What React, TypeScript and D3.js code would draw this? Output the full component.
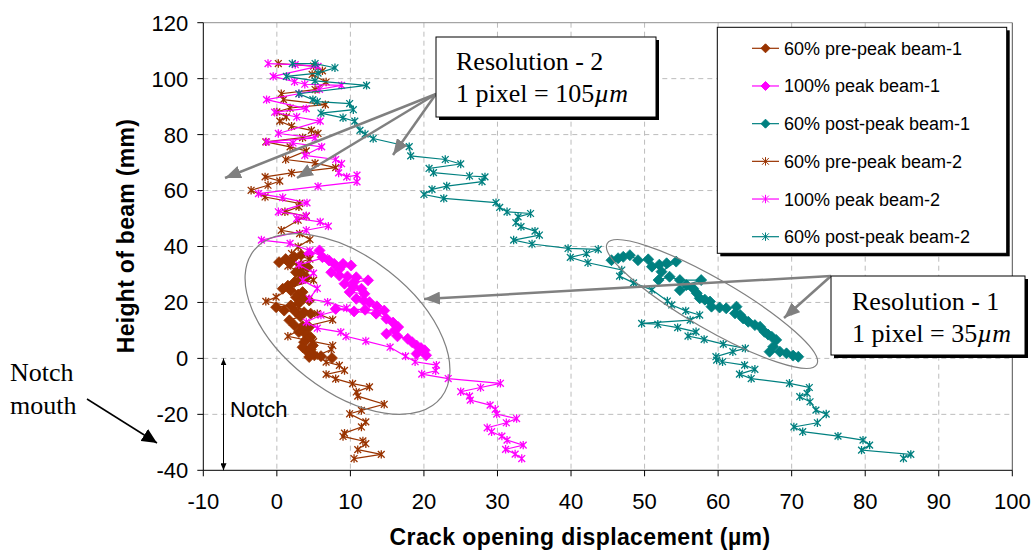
import React, { useEffect, useRef } from "react";
import * as d3 from "d3";

// [crack opening (µm), height (mm)]
const prePeakBeam1 = [
  [3.3, 37.0], [2.4, 36.2], [1.2, 35.5], [0.3, 34.4], [1.8, 34.0], [3.3, 33.2], [4.2, 32.6], [3.0, 31.8],
  [2.6, 30.8], [3.5, 30.0], [4.0, 29.0], [3.2, 28.2], [2.4, 27.3], [1.5, 26.0], [0.8, 24.9], [1.9, 24.3],
  [3.5, 23.7], [2.9, 22.8], [2.6, 21.9], [3.6, 21.3], [4.4, 20.7], [3.0, 19.8], [1.9, 18.9], [-0.1, 18.3],
  [1.0, 17.1], [2.5, 16.8], [3.7, 16.5], [4.6, 16.0], [3.2, 15.0], [1.7, 13.6], [2.4, 11.8], [3.5, 11.5],
  [4.4, 11.2], [3.8, 10.2], [3.0, 9.4], [4.0, 8.5], [4.6, 7.6], [4.0, 6.8], [3.7, 5.8], [3.5, 4.0],
  [4.9, 4.6], [4.6, 3.2], [4.2, 2.3], [5.1, 1.1], [4.4, 0.5], [6.0, 0.8], [7.5, 0.1],
];
const peakBeam1 = [
  [4.4, 37.4], [5.8, 38.6], [6.2, 36.2], [7.1, 35.0], [7.8, 33.8], [9.0, 33.8], [10.1, 33.2], [8.5, 32.0],
  [7.4, 30.8], [8.5, 29.6], [9.6, 29.3], [10.8, 29.0], [12.4, 27.9], [10.5, 27.3], [9.2, 26.7], [10.4, 25.8],
  [11.5, 24.9], [9.9, 23.7], [11.9, 23.1], [10.8, 21.3], [11.8, 20.7], [12.6, 20.1], [13.6, 18.6], [14.6, 17.1],
  [12.0, 17.4], [8.0, 17.7], [10.5, 16.8], [13.5, 16.0], [14.9, 14.2], [15.8, 12.8], [16.5, 11.2], [16.0, 10.0],
  [14.9, 8.8], [16.4, 7.9], [17.8, 7.0], [18.4, 5.8], [19.0, 4.6], [19.6, 3.7], [20.1, 2.9], [19.0, 1.7],
  [20.3, 1.1],
];
const postPeakBeam1 = [
  [45.5, 35.1], [46.4, 35.8], [47.1, 36.3], [48.0, 36.9], [49.1, 35.1], [50.5, 35.4], [51.0, 32.8], [52.0, 33.5],
  [53.0, 34.0], [54.3, 34.6], [52.3, 31.0], [51.9, 28.0], [53.4, 29.2], [54.8, 28.0], [57.7, 28.0], [55.7, 26.2],
  [54.8, 24.4], [56.6, 25.0], [57.1, 23.3], [57.5, 21.5], [58.2, 21.0], [58.9, 20.3], [59.1, 18.5], [60.2, 18.2],
  [61.1, 17.9], [62.5, 18.5], [62.3, 16.1], [63.0, 15.5], [63.4, 14.3], [64.1, 13.1], [65.0, 11.9], [65.7, 11.3],
  [66.3, 9.5], [66.8, 8.5], [67.3, 7.7], [67.9, 6.6], [67.5, 4.2], [67.0, 2.4], [68.4, 2.4], [69.3, 1.8],
  [70.2, 1.0], [70.9, 0.6],
];
const prePeakBeam2 = [
  [0.2, 105.4], [5.0, 104.5], [6.2, 102.8], [4.8, 101.5], [6.7, 98.8], [5.2, 96.1], [0.6, 94.6], [0.9, 92.5],
  [6.6, 90.7], [1.8, 89.5], [0.0, 88.1], [1.3, 86.3], [0.4, 84.8], [2.0, 83.0], [4.7, 81.5], [5.6, 80.4],
  [3.5, 78.9], [-1.5, 77.4], [1.8, 75.6], [4.0, 74.2], [1.2, 71.1], [5.2, 69.8], [8.0, 68.2], [2.0, 66.3],
  [-1.6, 64.9], [0.4, 63.4], [-1.2, 61.9], [-3.5, 60.1], [-1.6, 57.7], [3.1, 55.4], [3.0, 54.2], [1.1, 52.4],
  [4.0, 50.8], [2.9, 49.4], [0.6, 45.8], [3.1, 44.6], [4.5, 42.5], [2.9, 39.9], [2.0, 37.5], [4.5, 35.5],
  [1.5, 33.0], [3.5, 30.5], [5.0, 28.0], [2.0, 25.5], [-0.1, 21.9], [-1.5, 20.4], [3.0, 18.0], [5.5, 16.0],
  [7.6, 13.8], [4.0, 11.5], [1.5, 7.9], [5.0, 6.0], [7.6, 4.6], [7.4, 3.2], [5.5, 1.0], [6.7, -1.3],
  [8.5, -2.5], [9.2, -4.3], [6.7, -5.7], [8.0, -7.3], [10.3, -9.0], [12.6, -10.2], [10.8, -12.0], [11.0, -13.5],
  [14.6, -16.4], [11.5, -18.6], [9.9, -19.8], [12.1, -22.7], [11.5, -24.5], [9.2, -26.7], [9.0, -27.9], [11.7, -29.5],
  [12.1, -30.5], [11.0, -32.6], [14.2, -34.3], [10.5, -35.8],
];
const peakBeam2 = [
  [-1.2, 105.4], [2.5, 105.0], [5.6, 104.4], [-0.5, 100.8], [2.4, 98.9], [3.8, 98.0], [8.8, 97.6], [5.8, 96.2],
  [3.0, 94.6], [-1.4, 92.5], [4.0, 89.3], [-0.3, 88.0], [2.7, 86.3], [5.9, 84.8], [0.2, 80.4], [5.2, 78.8],
  [-1.4, 77.4], [2.2, 77.0], [6.1, 75.6], [3.8, 72.6], [8.0, 71.1], [8.8, 69.6], [8.4, 66.3], [9.5, 64.9],
  [10.9, 65.5], [10.9, 63.1], [5.6, 61.5], [-2.5, 58.9], [0.8, 57.5], [4.1, 55.6], [0.2, 52.4], [4.0, 51.0],
  [2.7, 50.0], [5.9, 48.8], [7.0, 47.3], [4.0, 45.8], [-2.1, 42.3], [1.8, 41.1], [4.5, 38.5], [6.5, 36.0],
  [3.0, 33.5], [5.0, 30.5], [3.5, 27.9], [5.5, 25.0], [4.4, 21.3], [6.9, 20.1], [9.5, 18.0], [6.0, 15.5],
  [4.0, 13.0], [5.5, 10.8], [8.7, 9.4], [9.4, 7.9], [12.1, 6.2], [15.4, 4.0], [17.5, 0.8], [18.8, -1.2],
  [21.7, -2.4], [21.6, -4.4], [19.7, -5.6], [23.3, -7.2], [30.4, -8.9], [27.7, -10.4], [25.0, -11.9], [26.2, -13.5],
  [26.3, -14.9], [29.0, -16.7], [29.7, -18.2], [29.9, -19.9], [32.6, -21.5], [31.2, -23.0], [28.6, -24.8], [29.2, -26.2],
  [30.6, -27.8], [31.3, -29.2], [33.5, -31.0], [31.1, -32.5], [32.4, -34.2], [33.3, -35.8],
];
const postPeakBeam2 = [
  [2.1, 105.4], [5.2, 105.4], [7.9, 103.9], [5.6, 102.0], [1.3, 100.8], [5.2, 99.2], [12.2, 97.6], [3.0, 94.6],
  [4.9, 92.5], [5.5, 91.8], [9.9, 91.1], [10.4, 88.9], [6.0, 87.7], [9.0, 86.0], [10.6, 84.8], [11.3, 81.5],
  [12.0, 80.2], [13.1, 78.6], [18.0, 75.7], [18.2, 72.4], [22.9, 71.1], [25.0, 69.5], [20.7, 67.9], [21.3, 66.4],
  [26.2, 65.2], [28.3, 64.9], [27.9, 63.2], [23.1, 61.6], [21.1, 60.4], [20.0, 58.6], [22.7, 57.2], [29.8, 55.7],
  [30.3, 54.0], [31.3, 52.4], [34.5, 51.8], [32.8, 50.6], [32.5, 48.5], [33.2, 47.1], [35.1, 45.5], [35.7, 44.1],
  [32.2, 42.3], [34.7, 40.9], [39.6, 39.3], [43.7, 39.0], [42.1, 37.5], [39.9, 36.1], [42.3, 34.2], [46.9, 31.6],
  [46.6, 29.4], [48.5, 27.0], [51.0, 24.5], [53.1, 20.5], [53.7, 19.1], [55.6, 17.0], [57.5, 15.5], [56.2, 13.7],
  [49.6, 12.5], [51.8, 12.2], [54.5, 11.0], [57.0, 9.5], [55.9, 8.0], [58.1, 6.8], [60.7, 5.1], [63.7, 3.6],
  [62.0, 2.4], [59.7, 0.6], [59.8, -0.6], [60.6, -1.2], [63.6, -2.4], [65.0, -3.9], [62.9, -5.6], [64.5, -7.2],
  [69.7, -8.9], [72.4, -10.4], [72.1, -12.5], [71.1, -13.7], [72.5, -15.5], [73.3, -18.5], [74.7, -19.9], [73.5, -23.0],
  [70.3, -24.5], [71.5, -26.2], [76.3, -27.8], [79.7, -29.2], [80.6, -31.0], [79.5, -32.8], [86.2, -34.3], [85.2, -35.7],
];

const seriesNames = [
  "60% pre-peak beam-1", "100% peak beam-1", "60% post-peak beam-1",
  "60% pre-peak beam-2", "100% peak beam-2", "60% post-peak beam-2",
];
const seriesData = [prePeakBeam1, peakBeam1, postPeakBeam1, prePeakBeam2, peakBeam2, postPeakBeam2];
const seriesColors = ["#993300", "#FF00FF", "#008080", "#993300", "#FF00FF", "#008080"];
const seriesMarkers = ["diamond", "diamond", "diamond", "star", "star", "star"];

const xTicks = [-10, 0, 10, 20, 30, 40, 50, 60, 70, 80, 90, 100];
const yTicks = [-40, -20, 0, 20, 40, 60, 80, 100, 120];

const diamondPath = "M0,-5.5L5.5,0L0,5.5L-5.5,0Z";
const legendDiamond = "M0,-4.5L4.5,0L0,4.5L-4.5,0Z";
const starPath = "M-3.4,-3.4L3.4,3.4M-3.4,3.4L3.4,-3.4M0,-4.2L0,4.2";

export default function App() {
  const ref = useRef<SVGSVGElement>(null);

  useEffect(() => {
    const svg = d3.select(ref.current);
    svg.selectAll("*").remove();

    const x = d3.scaleLinear().domain([-10, 100]).range([203.3, 1012.3]);
    const y = d3.scaleLinear().domain([-40, 120]).range([470.3, 22.7]);
    const left = x(-10), right = x(100), top = y(120), bottom = y(-40);

    const defs = svg.append("defs");
    const mk = (id, color, len, half) =>
      defs.append("marker").attr("id", id).attr("markerUnits", "userSpaceOnUse")
        .attr("viewBox", `0 0 ${len} ${half * 2}`).attr("refX", len).attr("refY", half)
        .attr("markerWidth", len).attr("markerHeight", half * 2).attr("orient", "auto-start-reverse")
        .append("path").attr("d", `M0,0L${len},${half}L0,${half * 2}Z`).attr("fill", color);
    mk("grayHead", "#808080", 16, 6.5);
    mk("blackSmall", "#000", 7, 3);
    mk("blackBig", "#000", 15, 7);

    svg.append("rect").attr("width", 1034).attr("height", 552).attr("fill", "#fff");

    // grid
    const grid = svg.append("g").attr("stroke", "#bcbcbc").attr("stroke-dasharray", "5,4").attr("stroke-width", 1);
    grid.selectAll(".vx").data(xTicks.filter(d => d > -10 && d < 100)).join("line")
      .attr("x1", d => x(d)).attr("x2", d => x(d)).attr("y1", top).attr("y2", bottom);
    grid.selectAll(".hy").data(yTicks.filter(d => d > -40 && d < 120)).join("line")
      .attr("x1", left).attr("x2", right).attr("y1", d => y(d)).attr("y2", d => y(d));
    svg.append("line").attr("x1", left).attr("x2", right).attr("y1", top).attr("y2", top)
      .attr("stroke", "#909090");
    svg.append("line").attr("x1", right).attr("x2", right).attr("y1", top).attr("y2", bottom)
      .attr("stroke", "#505050");

    // series
    const line = d3.line().x(d => x(d[0])).y(d => y(d[1]));
    seriesData.forEach((data, i) => {
      const g = svg.append("g");
      g.append("path").attr("d", line(data)).attr("fill", "none")
        .attr("stroke", seriesColors[i]).attr("stroke-width", 1.2);
      g.selectAll("path.m").data(data).join("path").attr("class", "m")
        .attr("transform", d => `translate(${x(d[0])},${y(d[1])})`)
        .attr("d", seriesMarkers[i] === "diamond" ? diamondPath : starPath)
        .attr("fill", seriesMarkers[i] === "diamond" ? seriesColors[i] : "none")
        .attr("stroke", seriesColors[i]).attr("stroke-width", seriesMarkers[i] === "diamond" ? 0.8 : 1.3);
    });

    // axes
    const ax = svg.append("g").attr("stroke", "#000").attr("stroke-width", 1);
    ax.append("line").attr("x1", left).attr("x2", left).attr("y1", top).attr("y2", bottom);
    ax.append("line").attr("x1", left).attr("x2", right).attr("y1", bottom).attr("y2", bottom);
    ax.selectAll(".ty").data(yTicks).join("line")
      .attr("x1", left - 6).attr("x2", left).attr("y1", d => y(d)).attr("y2", d => y(d));
    ax.selectAll(".tx").data(xTicks).join("line")
      .attr("x1", d => x(d)).attr("x2", d => x(d)).attr("y1", bottom).attr("y2", bottom + 6);

    const font = "Arial, 'Liberation Sans', sans-serif";
    svg.append("g").selectAll("text").data(yTicks).join("text")
      .attr("x", left - 15).attr("y", d => y(d)).attr("dy", "0.36em").attr("text-anchor", "end")
      .attr("font-family", font).attr("font-size", 22).text(d => d);
    svg.append("g").selectAll("text").data(xTicks).join("text")
      .attr("x", d => x(d)).attr("y", 509).attr("text-anchor", "middle")
      .attr("font-family", font).attr("font-size", 22).text(d => d);

    svg.append("text").attr("x", 580).attr("y", 545).attr("text-anchor", "middle")
      .attr("font-family", font).attr("font-size", 23).attr("font-weight", "bold").attr("letter-spacing", 0.4)
      .text("Crack opening displacement (µm)");
    svg.append("text").attr("transform", `translate(134,236) rotate(-90)`).attr("text-anchor", "middle")
      .attr("font-family", font).attr("font-size", 23).attr("font-weight", "bold").attr("letter-spacing", 0.3)
      .text("Height of beam (mm)");

    // ellipses
    svg.append("ellipse").attr("cx", 347.5).attr("cy", 324).attr("rx", 119).attr("ry", 67)
      .attr("transform", "rotate(38,347.5,324)").attr("fill", "none").attr("stroke", "#808080").attr("stroke-width", 1.2);
    svg.append("ellipse").attr("cx", 712).attr("cy", 304).attr("rx", 121).attr("ry", 25)
      .attr("transform", "rotate(30,712,304)").attr("fill", "none").attr("stroke", "#808080").attr("stroke-width", 1.2);

    // gray arrows
    const arrows = [
      [436, 94, 225, 178], [436, 94, 297, 178], [436, 94, 393, 155],
      [831, 276, 424, 299], [831, 276, 784, 318],
    ];
    svg.append("g").selectAll("line").data(arrows).join("line")
      .attr("x1", d => d[0]).attr("y1", d => d[1]).attr("x2", d => d[2]).attr("y2", d => d[3])
      .attr("stroke", "#808080").attr("stroke-width", 2.5).attr("marker-end", "url(#grayHead)");

    // notch
    svg.append("line").attr("x1", 223.5).attr("x2", 223.5).attr("y1", y(0)).attr("y2", bottom)
      .attr("stroke", "#000").attr("stroke-width", 1)
      .attr("marker-start", "url(#blackSmall)").attr("marker-end", "url(#blackSmall)");
    svg.append("text").attr("x", 230).attr("y", 417).attr("font-family", font).attr("font-size", 22).text("Notch");

    const serif = "'Times New Roman', 'Liberation Serif', serif";
    svg.append("text").attr("x", 10).attr("y", 381).attr("font-family", serif).attr("font-size", 26).text("Notch");
    svg.append("text").attr("x", 10).attr("y", 414).attr("font-family", serif).attr("font-size", 26).text("mouth");
    svg.append("line").attr("x1", 87).attr("y1", 399).attr("x2", 157).attr("y2", 443)
      .attr("stroke", "#000").attr("stroke-width", 1.5).attr("marker-end", "url(#blackBig)");

    // text boxes
    const boxes = [
      { x: 436, y: 37, w: 220, h: 80, tx: 456, l1: "Resolution - 2", num: "105", b1: 70, b2: 102 },
      { x: 831, y: 276, w: 194, h: 79, tx: 852, l1: "Resolution - 1", num: "35", b1: 310, b2: 342 },
    ];
    boxes.forEach(b => {
      svg.append("rect").attr("x", b.x + 3).attr("y", b.y + 3).attr("width", b.w).attr("height", b.h).attr("fill", "#000");
      svg.append("rect").attr("x", b.x).attr("y", b.y).attr("width", b.w).attr("height", b.h)
        .attr("fill", "#fff").attr("stroke", "#000").attr("stroke-width", 1);
      svg.append("text").attr("x", b.tx).attr("y", b.b1).attr("font-family", serif).attr("font-size", 26).text(b.l1);
      const t = svg.append("text").attr("x", b.tx).attr("y", b.b2).attr("font-family", serif).attr("font-size", 26);
      t.append("tspan").text(`1 pixel = ${b.num}`);
      t.append("tspan").attr("font-style", "italic").text("µm");
    });

    // legend
    const lg = svg.append("g");
    lg.append("rect").attr("x", 720.3).attr("y", 30.3).attr("width", 289.4).attr("height", 226).attr("fill", "#000");
    lg.append("rect").attr("x", 717.3).attr("y", 27.3).attr("width", 289.4).attr("height", 226)
      .attr("fill", "#fff").attr("stroke", "#000").attr("stroke-width", 1);
    const ly = d3.scalePoint().domain(seriesNames).range([48.3, 236.7]);
    seriesNames.forEach((name, i) => {
      const cy = ly(name);
      lg.append("line").attr("x1", 752).attr("x2", 779).attr("y1", cy).attr("y2", cy)
        .attr("stroke", seriesColors[i]).attr("stroke-width", 1.2);
      lg.append("path").attr("transform", `translate(765.5,${cy})`)
        .attr("d", seriesMarkers[i] === "diamond" ? legendDiamond : starPath)
        .attr("fill", seriesMarkers[i] === "diamond" ? seriesColors[i] : "none")
        .attr("stroke", seriesColors[i]).attr("stroke-width", 1);
      lg.append("text").attr("x", 784).attr("y", cy).attr("dy", "0.36em")
        .attr("font-family", font).attr("font-size", 18).text(name);
    });
  }, []);

  return (
    <div style={{ position: "absolute", left: 0, top: 0 }}>
      <svg ref={ref} width={1034} height={552}></svg>
    </div>
  );
}
